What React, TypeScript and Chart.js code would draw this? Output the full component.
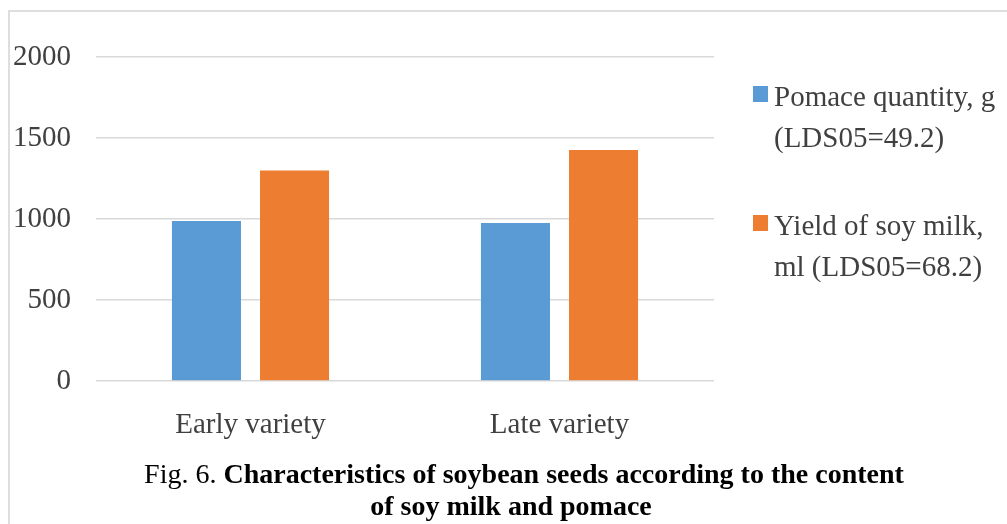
import React, { useEffect, useRef } from "react";
import { Chart, registerables } from "chart.js";

Chart.register(...registerables);

const categories: string[] = ["Early variety", "Late variety"];
const pomaceValues: number[] = [988, 975];
const milkValues: number[] = [1300, 1426];
const seriesLabels: string[][] = [
  ["Pomace quantity, g", "(LDS05=49.2)"],
  ["Yield of soy milk,", "ml (LDS05=68.2)"],
];
const seriesColors: string[] = ["#5B9BD5", "#ED7D31"];
const yTicks = { min: 0, max: 2000, step: 500 };
const captionNormal = "Fig. 6. ";
const captionBold1 = "Characteristics of soybean seeds according to the content";
const captionBold2 = "of soy milk and pomace";

const FONT = '"Liberation Serif", "Times New Roman", serif';

const legendPlugin = {
  id: "sideLegend",
  afterDraw(chart: any) {
    const ctx = chart.ctx;
    const x0 = 753;
    const tops = [86, 215];
    ctx.save();
    chart.data.datasets.forEach((ds: any, i: number) => {
      const top = tops[i];
      ctx.fillStyle = ds.backgroundColor;
      ctx.fillRect(x0, top, 15, 16);
      ctx.fillStyle = "#404040";
      ctx.font = `29px ${FONT}`;
      ctx.textBaseline = "alphabetic";
      ctx.textAlign = "left";
      const lines: string[] = Array.isArray(ds.label) ? ds.label : [ds.label];
      lines.forEach((ln, j) => {
        ctx.fillText(ln, x0 + 21, top + 20 + j * 41);
      });
    });
    ctx.restore();
  },
};

export default function App() {
  const canvasRef = useRef<HTMLCanvasElement | null>(null);

  useEffect(() => {
    if (!canvasRef.current) return;
    const chart = new Chart(canvasRef.current, {
      type: "bar",
      data: {
        labels: categories,
        datasets: [
          {
            label: seriesLabels[0] as any,
            data: pomaceValues,
            backgroundColor: seriesColors[0],
            categoryPercentage: 0.57,
            barPercentage: 0.784,
          },
          {
            label: seriesLabels[1] as any,
            data: milkValues,
            backgroundColor: seriesColors[1],
            categoryPercentage: 0.57,
            barPercentage: 0.784,
          },
        ],
      },
      options: {
        animation: false,
        responsive: true,
        maintainAspectRatio: false,
        layout: { padding: { left: 0, right: 293, top: 57, bottom: 63 } },
        plugins: {
          legend: { display: false },
          tooltip: { enabled: false },
        },
        scales: {
          x: {
            grid: { display: false },
            border: { display: false },
            ticks: {
              color: "#404040",
              font: { family: FONT, size: 29 },
              padding: 19,
              maxRotation: 0,
            },
            afterFit: (scale: any) => {
              scale.height = 80;
            },
          },
          y: {
            min: yTicks.min,
            max: yTicks.max,
            border: { display: false },
            grid: {
              color: "#d9d9d9",
              lineWidth: 1.5,
              drawTicks: false,
              tickLength: 0,
            },
            ticks: {
              stepSize: yTicks.step,
              color: "#404040",
              font: { family: FONT, size: 29 },
              padding: 25,
              callback: (v: any) => String(v),
            },
            afterFit: (scale: any) => {
              scale.width = 96;
            },
          },
        },
      },
      plugins: [legendPlugin],
    });
    return () => chart.destroy();
  }, []);

  return (
    <div
      style={{
        position: "fixed",
        left: 0,
        top: 0,
        width: 1007,
        height: 524,
        background: "#ffffff",
        overflow: "hidden",
      }}
    >
      <div
        style={{
          position: "absolute",
          left: 8,
          top: 10,
          width: 1100,
          height: 600,
          border: "2px solid #dedede",
        }}
      />
      <div style={{ position: "absolute", left: 0, top: 0, width: 1007, height: 524 }}>
        <canvas ref={canvasRef} />
      </div>
      <div
        style={{
          position: "absolute",
          left: 524 - 500,
          top: 458,
          width: 1000,
          textAlign: "center",
          whiteSpace: "nowrap",
          fontFamily: FONT,
          fontSize: 28,
          lineHeight: "32px",
          color: "#000",
        }}
      >
        {captionNormal}
        <b>{captionBold1}</b>
      </div>
      <div
        style={{
          position: "absolute",
          left: 511 - 500,
          top: 490,
          width: 1000,
          textAlign: "center",
          whiteSpace: "nowrap",
          fontFamily: FONT,
          fontSize: 28,
          lineHeight: "32px",
          color: "#000",
          fontWeight: "bold",
        }}
      >
        {captionBold2}
      </div>
    </div>
  );
}
